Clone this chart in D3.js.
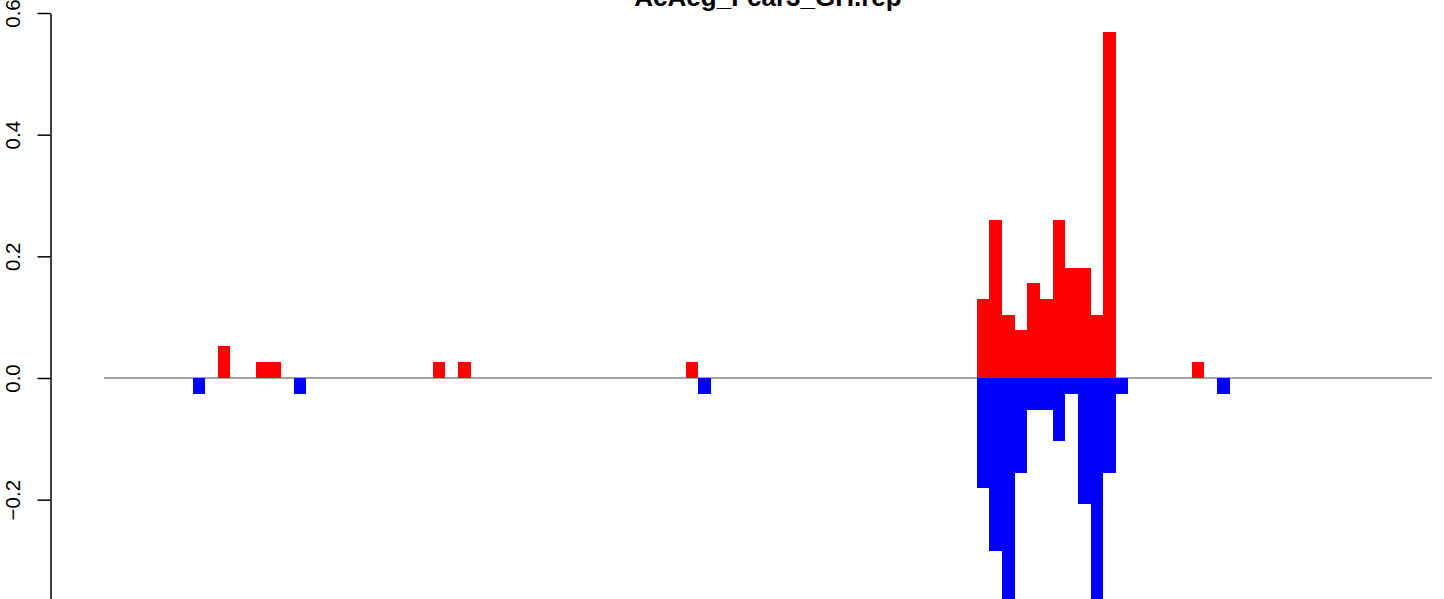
<!DOCTYPE html>
<html>
<head>
<meta charset="utf-8">
<script src="https://cdn.jsdelivr.net/npm/d3@7"></script>
<style>
  html, body { margin: 0; padding: 0; background: #fff; overflow: hidden; }
  svg { display: block; }
  text { font-family: "Liberation Sans", Arial, Helvetica, sans-serif; }
</style>
</head>
<body>
<script>
// ---- data ----
const chartTitle = "AcAeg_Fcar3_GH.rep";
const nBins = 105;
const upBins   = [9, 12, 13, 26, 28, 46, 69, 70, 71, 72, 73, 74, 75, 76, 77, 78, 79, 86];
const upValues = [0.0526, 0.026, 0.026, 0.026, 0.026, 0.026,
                  0.130, 0.260, 0.104, 0.079, 0.156, 0.130, 0.260, 0.181, 0.181, 0.104, 0.569,
                  0.026];
const downBins   = [7, 15, 47, 69, 70, 71, 72, 73, 74, 75, 76, 77, 78, 79, 80, 88];
const downValues = [-0.026, -0.026, -0.026,
                    -0.181, -0.284, -0.41, -0.156, -0.052, -0.052, -0.104, -0.026, -0.207, -0.41, -0.156, -0.026,
                    -0.026];
const yTicks = [-0.2, 0.0, 0.2, 0.4, 0.6];
const yMin = -0.3633, yMax = 0.6;

// ---- layout ----
const W = 1444, H = 599;
const svg = d3.select("body").append("svg").attr("width", W).attr("height", H);

const x = d3.scaleLinear().domain([0, nBins]).range([104, 1432]);
const y = d3.scaleLinear().domain([yMin, yMax]).range([599, 13]);

svg.append("clipPath").attr("id", "plotclip")
  .append("rect").attr("x", 0).attr("y", 0).attr("width", W).attr("height", y(yMin));

// baseline
svg.append("line")
  .attr("x1", x(0)).attr("x2", x(nBins))
  .attr("y1", y(0)).attr("y2", y(0))
  .attr("stroke", "#A3A3A3").attr("stroke-width", 2);

// bars
const up = upBins.map((b, i) => ({ b, v: upValues[i] }));
const down = downBins.map((b, i) => ({ b, v: downValues[i] }));
const bars = svg.append("g").attr("clip-path", "url(#plotclip)");

bars.append("g").selectAll("rect").data(up).join("rect")
  .attr("x", d => x(d.b))
  .attr("width", d => x(d.b + 1) - x(d.b))
  .attr("y", d => y(d.v))
  .attr("height", d => y(0) - y(d.v))
  .attr("fill", "#FF0000")
  .attr("shape-rendering", "crispEdges");

bars.append("g").selectAll("rect").data(down).join("rect")
  .attr("x", d => x(d.b))
  .attr("width", d => x(d.b + 1) - x(d.b))
  .attr("y", y(0))
  .attr("height", d => y(d.v) - y(0))
  .attr("fill", "#0000FF")
  .attr("shape-rendering", "crispEdges");

// y axis
const fmt = v => d3.format(".1f")(v).replace("-", "\u2212");
const axis = svg.append("g")
  .attr("transform", "translate(50.5,0)")
  .call(d3.axisLeft(y).tickValues(yTicks).tickSizeOuter(0).tickSizeInner(13).tickFormat(fmt));
axis.select(".domain").attr("stroke", "#000").attr("stroke-width", 1.5);
axis.selectAll(".tick line").attr("stroke", "#000").attr("stroke-width", 1.5);
axis.selectAll(".tick text")
  .attr("x", null).attr("dy", null)
  .attr("transform", "translate(-30.5,0) rotate(-90)")
  .attr("text-anchor", "middle")
  .attr("font-size", 20.5)
  .attr("fill", "#000")
  .style("font-family", "'Liberation Sans', Arial, Helvetica, sans-serif");

// title
svg.append("text")
  .attr("x", (x(0) + x(nBins)) / 2)
  .attr("y", 6)
  .attr("text-anchor", "middle")
  .attr("font-size", 26)
  .attr("font-weight", "bold")
  .attr("fill", "#000")
  .text(chartTitle);
</script>
</body>
</html>
